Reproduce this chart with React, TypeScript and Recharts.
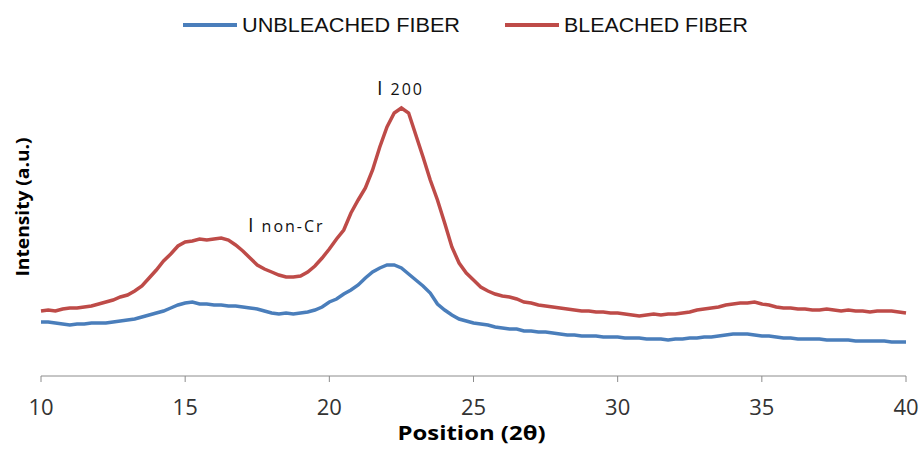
import React from 'react';
import { LineChart, Line, XAxis, YAxis, ReferenceDot, Label } from 'recharts';

// 2θ positions (degrees)
const positions = [
  10, 10.25, 10.5, 10.75, 11, 11.25, 11.5, 11.75, 12, 12.25, 12.5, 12.75,
  13, 13.25, 13.5, 13.75, 14, 14.25, 14.5, 14.75, 15, 15.25, 15.5, 15.75,
  16, 16.25, 16.5, 16.75, 17, 17.25, 17.5, 17.75, 18, 18.25, 18.5, 18.75,
  19, 19.25, 19.5, 19.75, 20, 20.25, 20.5, 20.75, 21, 21.25, 21.5, 21.75,
  22, 22.25, 22.5, 22.75, 23, 23.25, 23.5, 23.75, 24, 24.25, 24.5, 24.75,
  25, 25.25, 25.5, 25.75, 26, 26.25, 26.5, 26.75, 27, 27.25, 27.5, 27.75,
  28, 28.25, 28.5, 28.75, 29, 29.25, 29.5, 29.75, 30, 30.25, 30.5, 30.75,
  31, 31.25, 31.5, 31.75, 32, 32.25, 32.5, 32.75, 33, 33.25, 33.5, 33.75,
  34, 34.25, 34.5, 34.75, 35, 35.25, 35.5, 35.75, 36, 36.25, 36.5, 36.75,
  37, 37.25, 37.5, 37.75, 38, 38.25, 38.5, 38.75, 39, 39.25, 39.5, 39.75,
  40,
];

// intensity, arbitrary units
const unbleached = [
  54, 54, 53, 52, 51, 52, 52, 53, 53, 53, 54, 55,
  56, 57, 59, 61, 63, 65, 68, 71, 73, 74, 72, 72,
  71, 71, 70, 70, 69, 68, 67, 65, 63, 62, 63, 62,
  63, 64, 66, 69, 74, 77, 82, 86, 91, 98, 104, 108,
  111, 111, 108, 102, 96, 90, 83, 72, 66, 61, 57, 55,
  53, 52, 51, 49, 48, 47, 47, 45, 45, 44, 44, 43,
  42, 41, 41, 40, 40, 40, 39, 39, 39, 38, 38, 38,
  37, 37, 37, 36, 37, 37, 38, 38, 39, 39, 40, 41,
  42, 42, 42, 41, 40, 40, 39, 38, 38, 37, 37, 37,
  37, 36, 36, 36, 36, 35, 35, 35, 35, 35, 34, 34,
  34,
];

const bleached = [
  65, 66, 65, 67, 68, 68, 69, 70, 72, 74, 76, 79,
  81, 85, 90, 98, 106, 115, 122, 130, 134, 135, 137, 136,
  137, 138, 136, 131, 125, 118, 111, 107, 104, 101, 99, 99,
  100, 104, 110, 118, 127, 137, 146, 163, 176, 188, 206, 229,
  249, 263, 268, 263, 241, 219, 196, 176, 153, 129, 113, 103,
  96, 89, 85, 82, 80, 79, 77, 74, 73, 71, 70, 69,
  68, 67, 66, 65, 65, 64, 64, 63, 63, 62, 61, 60,
  61, 62, 61, 62, 62, 63, 64, 66, 67, 68, 69, 71,
  72, 73, 73, 74, 72, 71, 69, 68, 68, 67, 67, 66,
  66, 67, 66, 65, 66, 65, 65, 64, 65, 65, 65, 64,
  63,
];

const xTicks = [10, 15, 20, 25, 30, 35, 40];

const series = [
  { key: 'unbleached', name: 'UNBLEACHED FIBER', color: '#4A7EBB' },
  { key: 'bleached', name: 'BLEACHED FIBER', color: '#BE4B48' },
];

const data = positions.map((pos, i) => ({
  pos,
  unbleached: unbleached[i],
  bleached: bleached[i],
}));

const FONT = "'Open Sans', 'DejaVu Sans', sans-serif";

function ChartLegend() {
  // legend drawn above the plot, like the original
  const items = [
    { x: 183, textLen: 218 },
    { x: 505, textLen: 184 },
  ];
  return (
    <svg width={921} height={50} style={{ position: 'absolute', left: 0, top: 0 }}>
      {series.map((s, i) => (
        <g key={s.key}>
          <line x1={items[i].x} x2={items[i].x + 54} y1={25} y2={25} stroke={s.color} strokeWidth={4} />
          <text
            x={items[i].x + 59}
            y={32}
            fontFamily="'Liberation Sans', Arial, sans-serif"
            fontSize={20}
            fill="#111"
            textLength={items[i].textLen}
            lengthAdjust="spacingAndGlyphs"
          >
            {s.name}
          </text>
        </g>
      ))}
    </svg>
  );
}

const peakLabel = (main: string, sub: string) => (props: any) => (
  <text x={props.cx} y={props.cy} fontFamily={FONT} fill="#111">
    <tspan fontSize={20}>{main}</tspan>
    <tspan fontSize={16} dx={8} letterSpacing={2}>{sub}</tspan>
  </text>
);

export default function App() {
  return (
    <div style={{ position: 'absolute', left: 0, top: 0, width: 921, height: 452, background: '#fff' }}>
      <LineChart width={921} height={452} data={data} margin={{ top: 76, right: 15, bottom: 0, left: 0 }}>
        <XAxis
          dataKey="pos"
          type="number"
          domain={[10, 40]}
          ticks={xTicks}
          height={76}
          stroke="#8c8c8c"
          tickSize={6}
          tickMargin={17}
          tick={{ fill: '#333', fontSize: 22, fontFamily: FONT }}
        >
          <Label
            content={(p: any) => (
              <text
                x={p.viewBox.x + p.viewBox.width / 2 - 2}
                y={p.viewBox.y + 64}
                textAnchor="middle"
                fontFamily={FONT}
                fontWeight="bold"
                fontSize={19}
                fill="#000"
                textLength={148}
                lengthAdjust="spacingAndGlyphs"
              >
                Position (2θ)
              </text>
            )}
          />
        </XAxis>
        <YAxis domain={[0, 300]} width={41} tick={false} axisLine={false} tickLine={false}>
          <Label
            content={(p: any) => {
              const cx = p.viewBox.x + 22;
              const cy = p.viewBox.y + 131;
              return (
                <text
                  x={cx}
                  y={cy}
                  transform={`rotate(-90, ${cx}, ${cy})`}
                  textAnchor="middle"
                  dominantBaseline="central"
                  fontFamily={FONT}
                  fontWeight="bold"
                  fontSize={18}
                  fill="#000"
                  textLength={139}
                  lengthAdjust="spacingAndGlyphs"
                >
                  Intensity (a.u.)
                </text>
              );
            }}
          />
        </YAxis>
        {series.map((s) => (
          <Line
            key={s.key}
            type="linear"
            dataKey={s.key}
            name={s.name}
            stroke={s.color}
            strokeWidth={3.5}
            dot={false}
            isAnimationActive={false}
          />
        ))}
        <ReferenceDot x={21.65} y={281} r={0} shape={peakLabel('I', '200')} />
        <ReferenceDot x={17.18} y={144} r={0} shape={peakLabel('I', 'non-Cr')} />
      </LineChart>
      <ChartLegend />
    </div>
  );
}
